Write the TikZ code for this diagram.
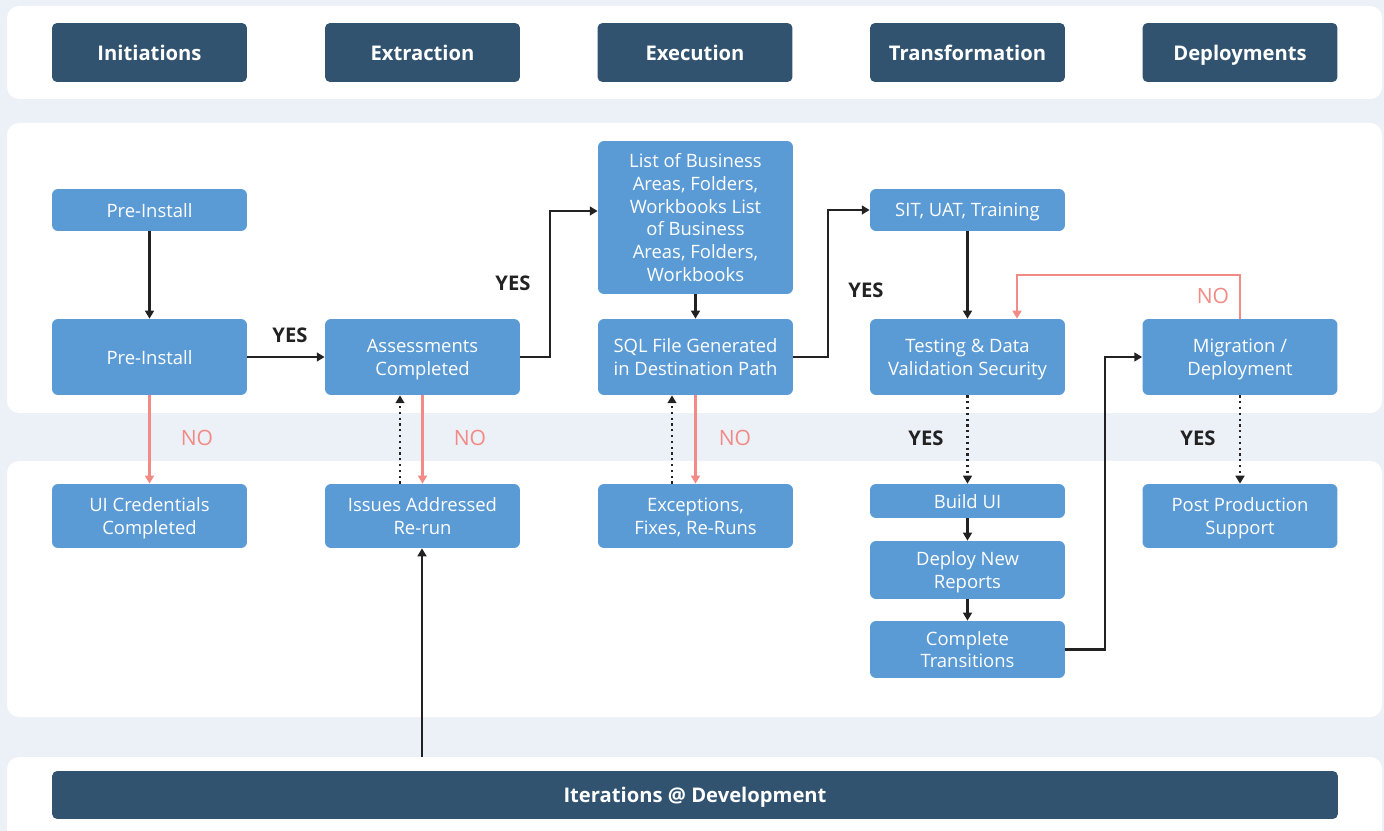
\documentclass[tikz,border=0pt]{standalone}
\usepackage{fontspec}
\setmainfont{Open Sans}
\usetikzlibrary{arrows.meta}
\definecolor{pagebg}{HTML}{ECF1F8}
\definecolor{headblue}{HTML}{31536F}
\definecolor{stepblue}{HTML}{5B9BD5}
\definecolor{nored}{HTML}{F28A86}
\definecolor{linegray}{HTML}{222222}
\tikzset{
  panel/.style={fill=white, rounded corners=0.24cm},
  head/.style={fill=headblue, rounded corners=0.1cm, text=white, font=\bfseries\fontsize{11.5}{14}\selectfont,
    minimum width=3.9cm, minimum height=1.18cm, inner sep=0pt, text depth=0pt},
  stepbox/.style={fill=stepblue, rounded corners=0.12cm, text=white, align=center,
    font=\fontsize{10.5}{13}\selectfont, minimum width=3.9cm, inner sep=2pt, text depth=0pt},
  yes/.style={font=\bfseries\fontsize{11.5}{14}\selectfont, text=linegray},
  no/.style={font=\fontsize{12}{14}\selectfont, text=nored},
  flow/.style={draw=linegray, line width=1.3pt, -{Triangle[length=4.5pt,width=5pt]}},
  dotflow/.style={flow, dotted},
  noflow/.style={draw=nored, line width=1.3pt, -{Triangle[length=4.5pt,width=5pt]}}
}
\begin{document}
\begin{tikzpicture}[x=0.02cm, y=-0.02cm]
\useasboundingbox (0,0) rectangle (1384,831);
\clip (0,0) rectangle (1384,831);
\fill[pagebg] (0,0) rectangle (1384,831);

% panels
\fill[panel] (7,6) rectangle (1382,99);
\fill[panel] (7,123) rectangle (1382,413);
\fill[panel] (7,461) rectangle (1382,717);
\fill[panel] (7,757) rectangle (1382,860);

% phase headers
\node[head] (hinit) at (149.5,52.5) {Initiations};
\node[head] (hextr) at (422.5,52.5) {Extraction};
\node[head] (hexec) at (695,52.5) {Execution};
\node[head] (htran) at (967.5,52.5) {Transformation};
\node[head] (hdepl) at (1240,52.5) {Deployments};

% steps
\node[stepbox, minimum height=0.84cm] (preA) at (149.5,210) {Pre-Install};
\node[stepbox, minimum height=1.52cm] (preB) at (149.5,357) {Pre-Install};
\node[stepbox, minimum height=1.52cm] (assess) at (422.5,357) {Assessments\\Completed};
\node[stepbox, minimum height=3.06cm] (list) at (695.5,217.5) {List of Business\\Areas, Folders,\\Workbooks List\\of Business\\Areas, Folders,\\Workbooks};
\node[stepbox, minimum height=1.52cm] (sql) at (695.5,357) {SQL File Generated\\in Destination Path};
\node[stepbox, minimum height=0.84cm] (sit) at (967.5,210) {SIT, UAT, Training};
\node[stepbox, minimum height=1.52cm] (test) at (967.5,357) {Testing \& Data\\Validation Security};
\node[stepbox, minimum height=1.52cm] (migr) at (1240,357) {Migration /\\Deployment};

\node[stepbox, minimum height=1.28cm] (uicred) at (149.5,516) {UI Credentials\\Completed};
\node[stepbox, minimum height=1.28cm] (issues) at (422.5,516) {Issues Addressed\\Re-run};
\node[stepbox, minimum height=1.28cm] (except) at (695.5,516) {Exceptions,\\Fixes, Re-Runs};
\node[stepbox, minimum height=0.68cm] (build) at (967.5,501) {Build UI};
\node[stepbox, minimum height=1.16cm] (deploy) at (967.5,570) {Deploy New\\Reports};
\node[stepbox, minimum height=1.14cm] (compl) at (967.5,649.5) {Complete\\Transitions};
\node[stepbox, minimum height=1.28cm] (post) at (1240,516) {Post Production\\Support};

\node[head, minimum width=25.72cm, minimum height=0.96cm] (iter) at (695,795) {Iterations @ Development};
\coordinate (iterTop) at (422,757);

% connectors
\draw[flow] (preA) -- (preB);
\draw[flow] (preB) -- (assess);
\draw[noflow] (preB) -- (uicred);
\draw[flow] (assess.east) -| (550,211) -- (list.west |- 0,211);
\draw[dotflow] (issues.north -| 400,0) -- (assess.south -| 400,0);
\draw[noflow] (assess) -- (issues);
\draw[flow] (list) -- (sql);
\draw[noflow] (sql) -- (except);
\draw[dotflow] (except.north -| 672,0) -- (sql.south -| 672,0);
\draw[flow] (sql.east) -| (828,210) -- (sit.west);
\draw[flow] (sit) -- (test);
\draw[dotflow] (test) -- (build);
\draw[flow] (build) -- (deploy);
\draw[flow] (deploy) -- (compl);
\draw[flow] (compl.east) -| (1105,357) -- (migr.west);
\draw[noflow] (migr.north) |- (1017,275) -- (test.north -| 1017,0);
\draw[dotflow] (migr) -- (post);
\draw[flow] (iterTop) -- (issues.south -| iterTop);

% labels
\node[yes] (yesA) at (290,335) {YES};
\node[yes] (yesB) at (513,283) {YES};
\node[yes] (yesC) at (866,290) {YES};
\node[yes] (yesD) at (926,438) {YES};
\node[yes] (yesE) at (1198,438) {YES};
\node[no] (noA) at (197,438) {NO};
\node[no] (noB) at (470,438) {NO};
\node[no] (noC) at (735,438) {NO};
\node[no] (noD) at (1213,296) {NO};
\end{tikzpicture}
\end{document}
